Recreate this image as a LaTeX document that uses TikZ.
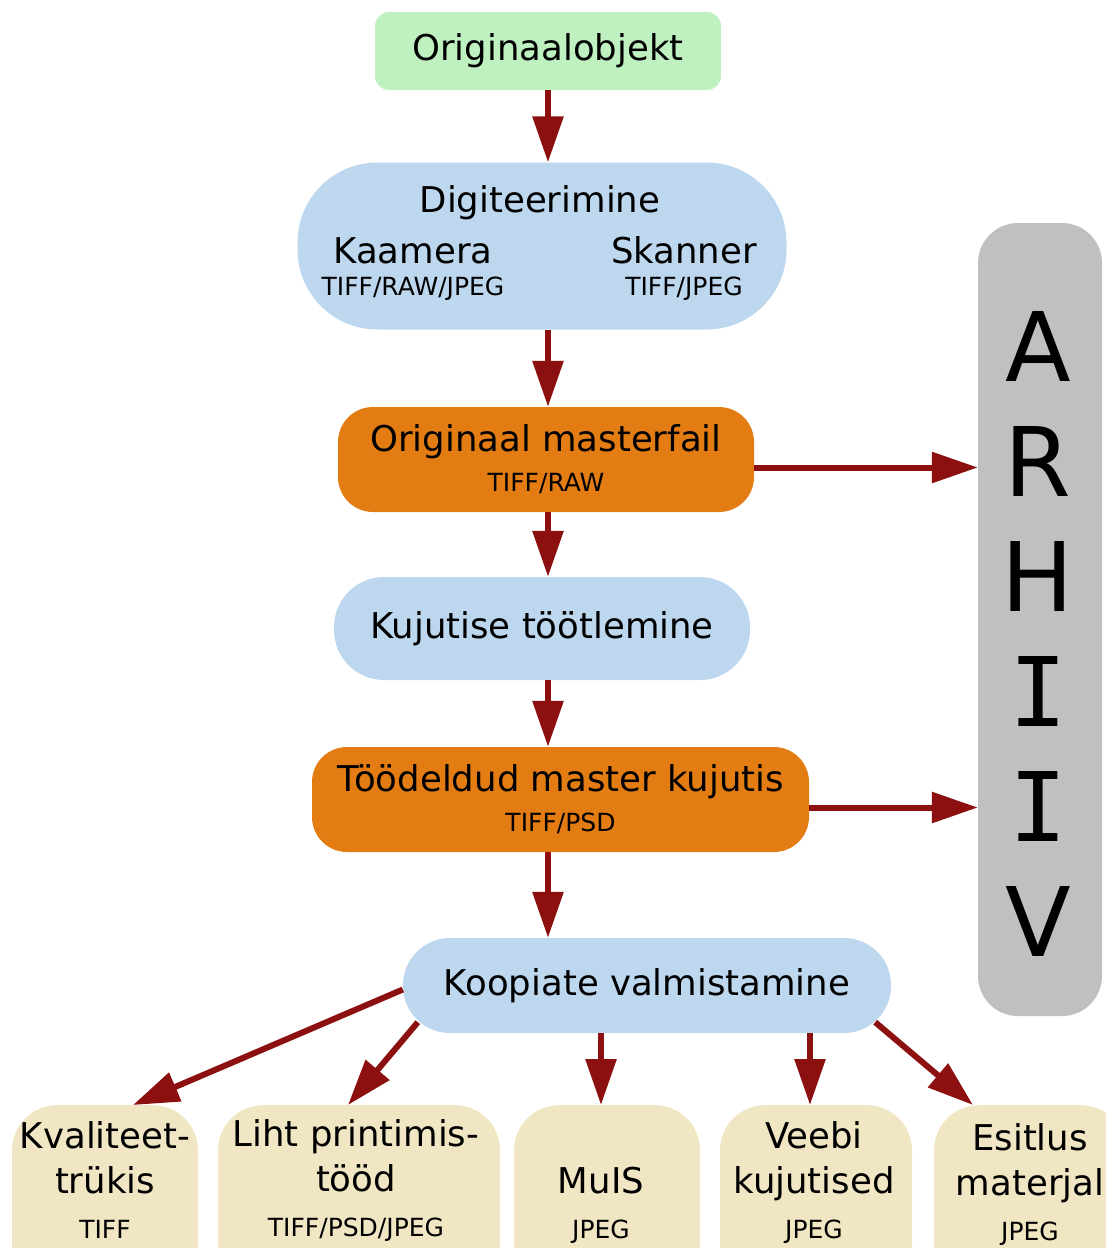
\documentclass[tikz,border=0pt]{standalone}
\usepackage{fontspec}
\setmainfont{DejaVu Sans}
\newfontfamily\slabfont{DejaVu Sans Mono}
\usetikzlibrary{arrows.meta}
\definecolor{objgreen}{RGB}{190,240,192}
\definecolor{stepblue}{RGB}{189,215,238}
\definecolor{masterorange}{RGB}{227,124,18}
\definecolor{archivegray}{RGB}{192,192,192}
\definecolor{copybeige}{RGB}{240,230,196}
\definecolor{arrowred}{RGB}{140,16,16}
\newcommand{\smalltext}{\fontsize{25}{29}\selectfont}

\begin{document}
\begin{tikzpicture}[x=1pt,y=-1pt,
        font=\fontsize{35.5}{45}\selectfont,
        box/.style={shape=rectangle,inner sep=0pt,align=center},
        arr/.style={draw=arrowred,line width=6pt,-{Triangle[length=46pt,width=30pt]}}]
        \useasboundingbox (0,0) rectangle (1106,1248);
        \clip (0,0) rectangle (1106,1248);

        \coordinate (axis) at (548,0);

        % main chain
        \node[box,fill=objgreen,rounded corners=14pt,minimum width=346pt,minimum height=78pt] (obj) at (548,51) {Originaalobjekt};
        \node[box,fill=stepblue,rounded corners=80pt,minimum width=489pt,minimum height=167pt] (dig) at (542,246) {};
        \node[box] (digtitle) at (540,203) {Digiteerimine};
        \node[box] (kaamera) at (413,269) {Kaamera\\[-13pt]{\smalltext TIFF/RAW/JPEG}};
        \node[box] (skanner) at (684,269) {Skanner\\[-13pt]{\smalltext TIFF/JPEG}};
        \node[box,fill=masterorange,rounded corners=35pt,minimum width=416pt,minimum height=105pt] (orig) at (546,459.5) {Originaal masterfail\\[-5pt]{\smalltext TIFF/RAW}};
        \node[box,fill=stepblue,rounded corners=50pt,minimum width=416pt,minimum height=103pt] (kuj) at (542,628.5) {Kujutise töötlemine};
        \node[box,fill=masterorange,rounded corners=35pt,minimum width=497pt,minimum height=105pt] (tood) at (560.5,799.5) {Töödeldud master kujutis\\[-5pt]{\smalltext TIFF/PSD}};
        \node[box,fill=stepblue,rounded corners=47pt,minimum width=488pt,minimum height=95pt] (koop) at (647,985.5) {Koopiate valmistamine};

        % archive
        \node[box,fill=archivegray,rounded corners=40pt,minimum width=124pt,minimum height=793pt] (arh) at (1040,619.5) {};
        \node[box,font=\fontsize{96}{115}\selectfont] (arhtext) at (1038,634) {A\\R\\H\\{\slabfont I}\\{\slabfont I}\\V};

        % copies
        \node[box,fill=copybeige,rounded corners=45pt,minimum width=186pt,minimum height=300pt,anchor=north] (kval) at (105,1105) {};
        \node[box,fill=copybeige,rounded corners=45pt,minimum width=282pt,minimum height=300pt,anchor=north] (liht) at (359,1105) {};
        \node[box,fill=copybeige,rounded corners=45pt,minimum width=186pt,minimum height=300pt,anchor=north] (muis) at (607,1105) {};
        \node[box,fill=copybeige,rounded corners=45pt,minimum width=192pt,minimum height=300pt,anchor=north] (veeb) at (816,1105) {};
        \node[box,fill=copybeige,rounded corners=45pt,minimum width=192pt,minimum height=300pt,anchor=north] (esit) at (1030,1105) {};
        \node[box] (kvaltext) at (105,1180) {Kvaliteet-\\trükis\\{\smalltext TIFF}};
        \node[box] (lihttext) at (356,1180) {Liht printimis-\\tööd\\{\smalltext TIFF/PSD/JPEG}};
        \node[box] (muistext) at (601,1205) {MuIS\\{\smalltext JPEG}};
        \node[box] (veebtext) at (814,1183) {Veebi\\kujutised\\{\smalltext JPEG}};
        \node[box] (esittext) at (1030,1184) {Esitlus\\materjal\\{\smalltext JPEG}};

        % arrows
        \draw[arr] (obj.south -| axis) -- (dig.north -| axis);
        \draw[arr] (dig.south -| axis) -- (orig.north -| axis);
        \draw[arr] (orig.south -| axis) -- (kuj.north -| axis);
        \draw[arr] (kuj.south -| axis) -- (tood.north -| axis);
        \draw[arr] (tood.south -| axis) -- (koop.north -| axis);
        \draw[arr] ([yshift=-8pt]orig.east) -- ([yshift=-8pt]orig.east -| arh.west);
        \draw[arr] ([yshift=-8pt]tood.east) -- ([yshift=-8pt]tood.east -| arh.west);

        \coordinate (muistip) at ([xshift=-6pt]muis.north);
        \coordinate (veebtip) at ([xshift=-6pt]veeb.north);
        \draw[arr] ([yshift=-4pt]koop.west) -- ([xshift=28pt]kval.north);
        \draw[arr] ([xshift=15pt,yshift=11pt]koop.south west) -- ([xshift=-11pt]liht.north);
        \draw[arr] (muistip |- koop.south) -- (muistip);
        \draw[arr] (veebtip |- koop.south) -- (veebtip);
        \draw[arr] ([xshift=-16pt,yshift=11pt]koop.south east) -- ([xshift=-57pt]esit.north);
\end{tikzpicture}
\end{document}
